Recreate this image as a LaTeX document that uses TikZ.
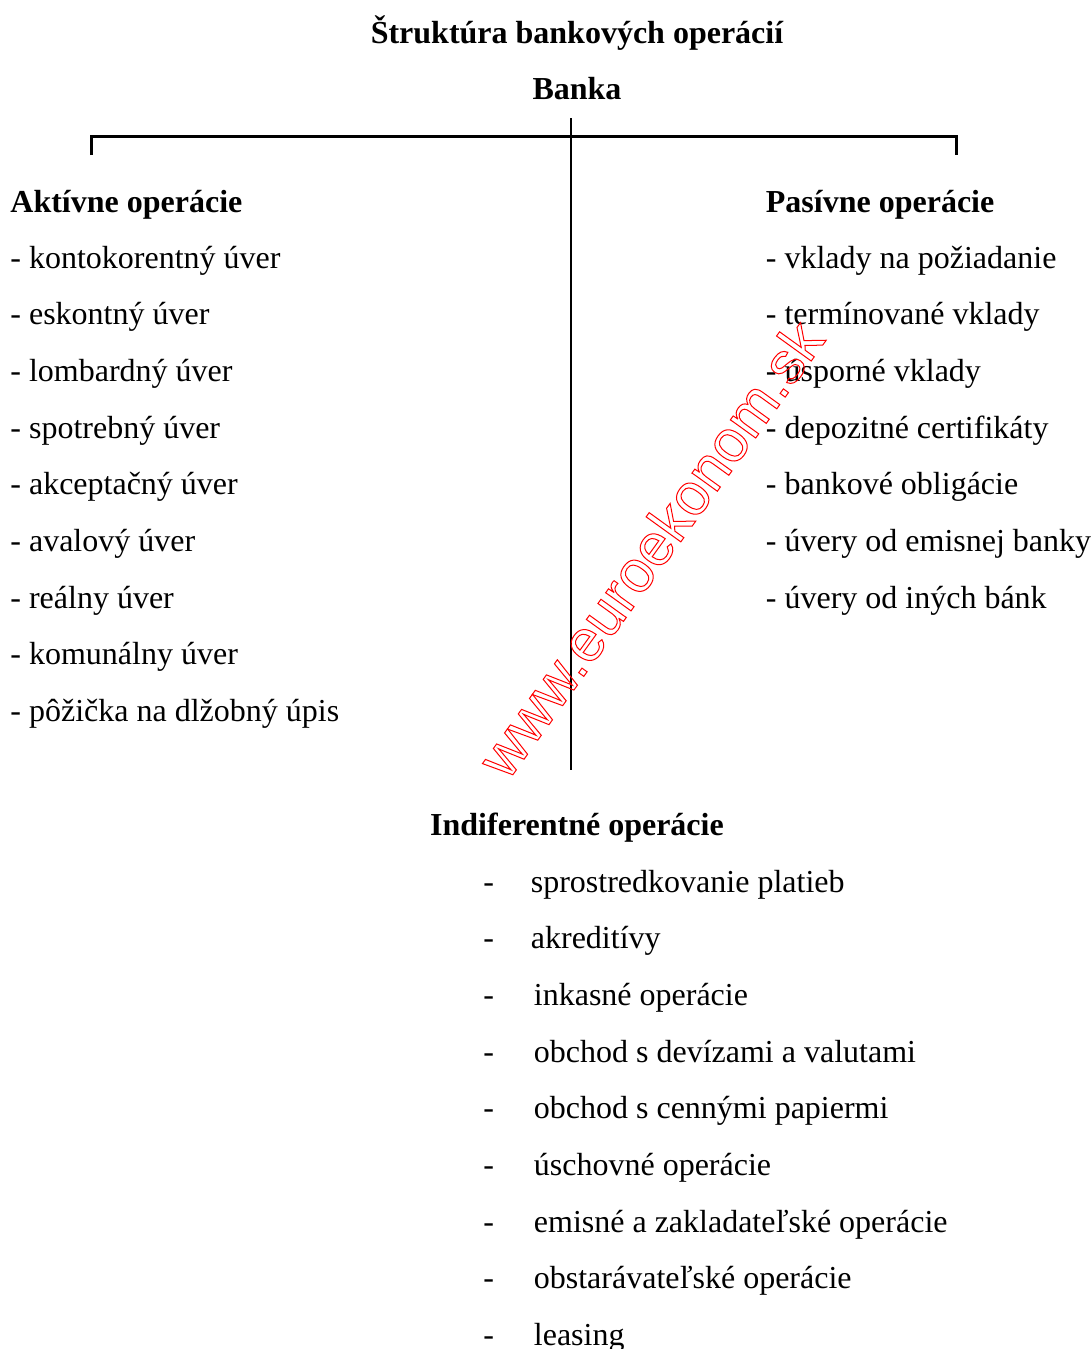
\documentclass[tikz,border=0pt]{standalone}
\usepackage{fontspec}
\setmainfont{Liberation Serif}
\newfontfamily\markfont{Liberation Sans}
\usepackage{xcolor}

\newcommand{\OutlineOn}{\special{pdf:literal direct 1 Tr 0.5 w}}
\newcommand{\OutlineOff}{\special{pdf:literal direct 0 Tr}}
\newcommand{\IndItem}[2]{\makebox[#1][l]{-}#2}

\begin{document}
\begin{tikzpicture}[
        %Environment config
        x=0.5pt, y=-0.5pt,
        font=\fontsize{16}{19}\selectfont,
        %Environment styles
        HeadCfg/.style={
            font=\fontsize{16}{19}\selectfont\bfseries,
            inner sep=0pt
        },
        ItemCfg/.style={
            inner sep=0pt,
            anchor=base west
        },
        MarkCfg/.style={
            font=\markfont\fontsize{29.5}{30}\selectfont,
            text=red,
            inner sep=0pt,
            anchor=base,
            rotate=54.2
        }
    ]
    \useasboundingbox (0,0) rectangle (1091,1349);

    \path
        (577,43) node[HeadCfg,anchor=base](TITLE){Štruktúra bankových operácií}
        (577,99) node[HeadCfg,anchor=base](BANK){Banka}
        (10,212) node[HeadCfg,anchor=base west](ACT){Aktívne operácie}
        (765.5,212) node[HeadCfg,anchor=base west](PAS){Pasívne operácie}
        (577,835) node[HeadCfg,anchor=base](IND){Indiferentné operácie}
        (571,118) coordinate (TOP)
        (571,770) coordinate (BOT)
        (91,155) coordinate (LT)
        (956,155) coordinate (RT);

    %bracket
    \draw[line width=1.5pt]
        (LT) |- (TOP |- 0,136) -| (RT);
    \draw[line width=1.1pt]
        (TOP) -- (BOT);

    %active
    \path
        (10,268) node[ItemCfg](A1){- kontokorentný úver}
            ++ (0,56.7) node[ItemCfg](A2){- eskontný úver}
            ++ (0,56.7) node[ItemCfg](A3){- lombardný úver}
            ++ (0,56.7) node[ItemCfg](A4){- spotrebný úver}
            ++ (0,56.7) node[ItemCfg](A5){- akceptačný úver}
            ++ (0,56.7) node[ItemCfg](A6){- avalový úver}
            ++ (0,56.7) node[ItemCfg](A7){- reálny úver}
            ++ (0,56.7) node[ItemCfg](A8){- komunálny úver}
            ++ (0,56.7) node[ItemCfg](A9){- pôžička na dlžobný úpis};

    %passive
    \path
        (765.5,268) node[ItemCfg](P1){- vklady na požiadanie}
            ++ (0,56.7) node[ItemCfg](P2){- termínované vklady}
            ++ (0,56.7) node[ItemCfg](P3){- úsporné vklady}
            ++ (0,56.7) node[ItemCfg](P4){- depozitné certifikáty}
            ++ (0,56.7) node[ItemCfg](P5){- bankové obligácie}
            ++ (0,56.7) node[ItemCfg](P6){- úvery od emisnej banky}
            ++ (0,56.7) node[ItemCfg](P7){- úvery od iných bánk};

    %indifferent
    \path
        (483,892) node[ItemCfg](I1){\IndItem{23.75pt}{sprostredkovanie platieb}}
            ++ (0,56.7) node[ItemCfg](I2){\IndItem{23.75pt}{akreditívy}}
            ++ (0,56.7) node[ItemCfg](I3){\IndItem{25.25pt}{inkasné operácie}}
            ++ (0,56.7) node[ItemCfg](I4){\IndItem{25.25pt}{obchod s devízami a valutami}}
            ++ (0,56.7) node[ItemCfg](I5){\IndItem{25.25pt}{obchod s cennými papiermi}}
            ++ (0,56.7) node[ItemCfg](I6){\IndItem{25.25pt}{úschovné operácie}}
            ++ (0,56.7) node[ItemCfg](I7){\IndItem{25.25pt}{emisné a zakladateľské operácie}}
            ++ (0,56.7) node[ItemCfg](I8){\IndItem{25.25pt}{obstarávateľské operácie}}
            ++ (0,56.7) node[ItemCfg](I9){\IndItem{25.25pt}{leasing}};

    %watermark
    \node[MarkCfg](MARK) at (667,561) {\OutlineOn www.euroekonom.sk\OutlineOff};

\end{tikzpicture}
\end{document}
